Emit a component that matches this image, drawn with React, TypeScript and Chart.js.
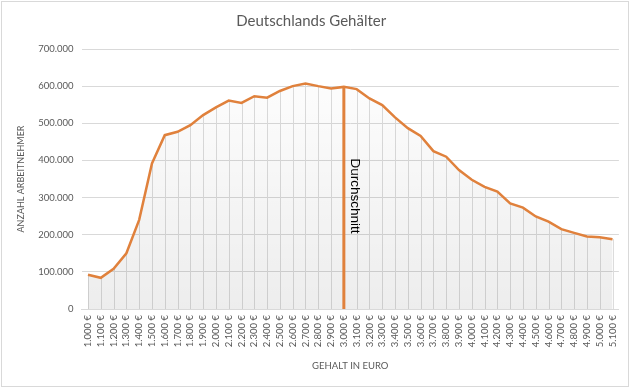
import React, { useEffect, useRef } from "react";
import { Chart, registerables } from "chart.js";

Chart.register(...registerables);

const categories: string[] = [
  "1.000 €", "1.100 €", "1.200 €", "1.300 €", "1.400 €", "1.500 €", "1.600 €", "1.700 €",
  "1.800 €", "1.900 €", "2.000 €", "2.100 €", "2.200 €", "2.300 €", "2.400 €", "2.500 €",
  "2.600 €", "2.700 €", "2.800 €", "2.900 €", "3.000 €", "3.100 €", "3.200 €", "3.300 €",
  "3.400 €", "3.500 €", "3.600 €", "3.700 €", "3.800 €", "3.900 €", "4.000 €", "4.100 €",
  "4.200 €", "4.300 €", "4.400 €", "4.500 €", "4.600 €", "4.700 €", "4.800 €", "4.900 €",
  "5.000 €", "5.100 €",
];

const employees: number[] = [
  92000, 84000, 108000, 150000, 240000, 392000, 468000, 477000,
  495000, 522000, 543000, 561000, 555000, 573000, 569000, 587000,
  600000, 607000, 600000, 594000, 598000, 592000, 567000, 549000,
  516000, 487000, 466000, 425000, 410000, 374000, 348000, 329000,
  316000, 284000, 273000, 249000, 235000, 215000, 205000, 195000,
  193000, 188000,
];

const averageCategory = "3.000 €";
const averageLabel = "Durchschnitt";
const chartTitle = "Deutschlands Gehälter";
const yTitle = "ANZAHL ARBEITNEHMER";
const xTitle = "GEHALT IN EURO";

const ORANGE = "#E0813C";
const GRID = "#d9d9d9";
const TEXT = "#595959";

function fmt(v: number): string {
  return String(Math.round(v)).replace(/\B(?=(\d{3})+(?!\d))/g, ".");
}

const framePlugin = {
  id: "frame",
  beforeDraw(chart: any) {
    const ctx = chart.ctx;
    ctx.save();
    ctx.fillStyle = "#ffffff";
    ctx.fillRect(0, 0, chart.width, chart.height);
    ctx.strokeStyle = GRID;
    ctx.lineWidth = 1;
    ctx.strokeRect(1.5, 1.5, chart.width - 3, chart.height - 4);
    ctx.restore();
  },
};

const dropLinesPlugin = {
  id: "dropLines",
  beforeDatasetsDraw(chart: any) {
    const ctx = chart.ctx;
    const meta = chart.getDatasetMeta(0);
    const bottom = chart.chartArea.bottom;
    ctx.save();
    ctx.strokeStyle = "#dcdcdc";
    ctx.lineWidth = 1;
    meta.data.forEach((pt: any) => {
      const x = Math.round(pt.x) + 0.5;
      ctx.beginPath();
      ctx.moveTo(x, bottom);
      ctx.lineTo(x, pt.y);
      ctx.stroke();
    });
    ctx.restore();
  },
};

const averagePlugin = {
  id: "averageLine",
  afterDatasetsDraw(chart: any) {
    const ctx = chart.ctx;
    const idx = categories.indexOf(averageCategory);
    const xs = chart.scales.x;
    const ys = chart.scales.y;
    const x = xs.getPixelForValue(idx);
    const yTop = ys.getPixelForValue(employees[idx]);
    const yBottom = ys.getPixelForValue(0);
    ctx.save();
    ctx.strokeStyle = ORANGE;
    ctx.lineWidth = 3;
    ctx.beginPath();
    ctx.moveTo(x, yBottom);
    ctx.lineTo(x, yTop);
    ctx.stroke();
    ctx.translate(x + 11, ys.getPixelForValue(405000));
    ctx.rotate(Math.PI / 2);
    ctx.fillStyle = "#000000";
    ctx.font = "13.5px 'Liberation Sans', Arial, sans-serif";
    ctx.textAlign = "left";
    ctx.textBaseline = "middle";
    ctx.fillText(averageLabel, 0, 0);
    ctx.restore();
  },
};

export default function App() {
  const ref = useRef<HTMLCanvasElement | null>(null);

  useEffect(() => {
    document.body.style.margin = "0";
    const canvas = ref.current;
    if (!canvas) return;
    const ctx = canvas.getContext("2d")!;
    const grad = ctx.createLinearGradient(0, 49, 0, 309);
    grad.addColorStop(0, "rgba(0,0,0,0.0)");
    grad.addColorStop(1, "rgba(0,0,0,0.07)");

    const chart = new Chart(canvas, {
      type: "line",
      data: {
        labels: categories,
        datasets: [
          {
            data: employees,
            borderColor: ORANGE,
            borderWidth: 2.5,
            backgroundColor: grad,
            fill: "origin",
            pointRadius: 0,
            tension: 0,
          },
        ],
      },
      options: {
        responsive: false,
        animation: false,
        layout: { padding: { left: 0, right: 7.6, top: 0, bottom: 0 } },
        plugins: {
          legend: { display: false },
          tooltip: { enabled: false },
          title: {
            display: true,
            text: chartTitle,
            color: TEXT,
            font: { family: "Lato, 'Open Sans', sans-serif", size: 15, weight: "normal", lineHeight: 1.2 },
            padding: { top: 12, bottom: 19 },
          },
        },
        scales: {
          x: {
            type: "category",
            offset: true,
            grid: { display: false, drawTicks: false },
            border: { display: true, color: GRID },
            ticks: {
              color: TEXT,
              font: { family: "Lato, 'Open Sans', sans-serif", size: 9.5 },
              minRotation: 90,
              maxRotation: 90,
              autoSkip: false,
              padding: 6,
            },
            title: {
              display: true,
              text: xTitle,
              color: TEXT,
              font: { family: "Lato, 'Open Sans', sans-serif", size: 9.5 },
              padding: { top: 0, bottom: 17 },
            },
            afterFit(axis: any) {
              axis.height = 80;
            },
          },
          y: {
            min: 0,
            max: 700000,
            grid: { color: GRID, drawTicks: false },
            border: { display: false },
            ticks: {
              stepSize: 100000,
              color: TEXT,
              font: { family: "Lato, 'Open Sans', sans-serif", size: 9.5 },
              padding: 8,
              callback: (v: any) => fmt(Number(v)),
            },
            title: {
              display: true,
              text: yTitle,
              color: TEXT,
              font: { family: "Lato, 'Open Sans', sans-serif", size: 9 },
              padding: { top: 16, bottom: 0 },
            },
            afterFit(axis: any) {
              axis.width = 81.6;
            },
          },
        },
      },
      plugins: [framePlugin, dropLinesPlugin, averagePlugin],
    });
    return () => chart.destroy();
  }, []);

  return <canvas ref={ref} width={630} height={389} style={{ display: "block" }} />;
}
